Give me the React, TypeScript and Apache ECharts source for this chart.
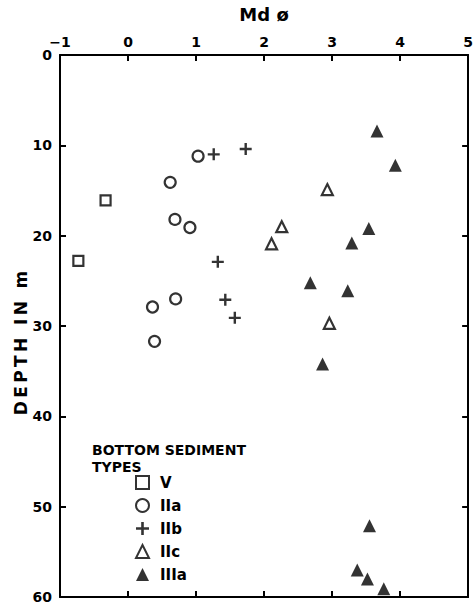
import React, { useEffect, useRef } from "react";
import * as echarts from "echarts";

// Md ø (x) vs depth in m (y)
const typeV: [number, number][] = [[-0.33, 16.1], [-0.73, 22.8]];
const typeIIa: [number, number][] = [
  [1.03, 11.2], [0.62, 14.1], [0.69, 18.2], [0.91, 19.1], [0.7, 27.0], [0.36, 27.9], [0.39, 31.7],
];
const typeIIb: [number, number][] = [
  [1.26, 11.0], [1.73, 10.4], [1.32, 22.9], [1.43, 27.1], [1.57, 29.1],
];
const typeIIc: [number, number][] = [
  [2.93, 14.9], [2.26, 19.0], [2.11, 20.9], [2.96, 29.7],
];
const typeIIIa: [number, number][] = [
  [3.66, 8.4], [3.93, 12.2], [3.54, 19.2], [3.29, 20.8], [2.68, 25.2], [3.23, 26.1], [2.86, 34.2],
  [3.55, 52.1], [3.37, 57.0], [3.52, 58.0], [3.76, 59.1],
];
const seriesNames = ["V", "IIa", "IIb", "IIc", "IIIa"];
const xTicks = [-1, 0, 1, 2, 3, 4, 5];
const yTicks = [0, 10, 20, 30, 40, 50, 60];

const FONT = "DejaVu Sans";
const PLUS = "path://M4,0H6V4H10V6H6V10H4V6H0V4H4Z";

export default function App() {
  const ref = useRef<HTMLDivElement>(null);
  useEffect(() => {
    if (!ref.current) return;
    const chart = echarts.init(ref.current, undefined, { renderer: "svg" });
    const labelStyle = { fontFamily: FONT, fontWeight: "bold" as const, fontSize: 14, color: "#000" };
    const axisCommon = {
      axisLine: { show: true, onZero: false, lineStyle: { color: "#000", width: 2 } },
      axisTick: { show: true, inside: true, length: 6, lineStyle: { color: "#000", width: 2 } },
      splitLine: { show: false },
    };
    const open = { color: "#fff", borderColor: "#000", borderWidth: 2.2 };
    chart.setOption({
      animation: false,
      backgroundColor: "#fff",
      grid: { left: 60, right: 5, top: 54, bottom: 7 },
      xAxis: [
        {
          type: "value", position: "top", min: xTicks[0], max: xTicks[xTicks.length - 1], interval: 1,
          ...axisCommon,
          axisLabel: { ...labelStyle, margin: 6, formatter: (v: number) => (v < 0 ? "\u2212" + Math.abs(v) : String(v)) },
          name: "Md \u00f8", nameLocation: "middle", nameGap: 32,
          nameTextStyle: { fontFamily: FONT, fontWeight: "bold", fontSize: 18, color: "#000" },
        },
        {
          type: "value", position: "bottom", min: xTicks[0], max: xTicks[xTicks.length - 1], interval: 1,
          ...axisCommon, axisLabel: { show: false },
        },
      ],
      yAxis: [
        {
          type: "value", inverse: true, min: yTicks[0], max: yTicks[yTicks.length - 1], interval: 10,
          position: "left",
          ...axisCommon,
          axisLabel: { ...labelStyle, margin: 8 },
        },
        {
          type: "value", inverse: true, min: yTicks[0], max: yTicks[yTicks.length - 1], interval: 10,
          position: "right",
          ...axisCommon, axisLabel: { show: false },
        },
      ],
      legend: {
        orient: "vertical", left: 135, top: 475, padding: 0, itemWidth: 13, itemHeight: 13, itemGap: 8,
        textStyle: { fontFamily: FONT, fontWeight: "bold", fontSize: 15, color: "#000", padding: [0, 0, 0, 6] },
        data: seriesNames,
      },
      graphic: [
        {
          type: "text", left: 92, top: 441,
          style: { text: "BOTTOM SEDIMENT\nTYPES", fontFamily: FONT, fontWeight: "bold", fontSize: 14, lineHeight: 17, fill: "#000" },
        },
        {
          type: "text", x: 21, y: 343, rotation: Math.PI / 2,
          style: {
            text: "D\u2009E\u2009P\u2009T\u2009H\u2009 \u2009I\u2009N\u2009 \u2009m",
            fontFamily: FONT, fontWeight: "bold", fontSize: 17, fill: "#000", align: "center", verticalAlign: "middle",
          },
        },
      ],
      series: [
        { name: seriesNames[0], type: "scatter", data: typeV, symbol: "rect", symbolSize: 10, itemStyle: open },
        { name: seriesNames[1], type: "scatter", data: typeIIa, symbol: "circle", symbolSize: 11, itemStyle: open },
        { name: seriesNames[2], type: "scatter", data: typeIIb, symbol: PLUS, symbolSize: 12, itemStyle: { color: "#000" } },
        { name: seriesNames[3], type: "scatter", data: typeIIc, symbol: "triangle", symbolSize: 11, itemStyle: open },
        { name: seriesNames[4], type: "scatter", data: typeIIIa, symbol: "triangle", symbolSize: 13, itemStyle: { color: "#000" } },
      ],
    });
    return () => chart.dispose();
  }, []);
  return <div ref={ref} style={{ width: 476, height: 604, position: "absolute", left: 0, top: 0 }} />;
}
